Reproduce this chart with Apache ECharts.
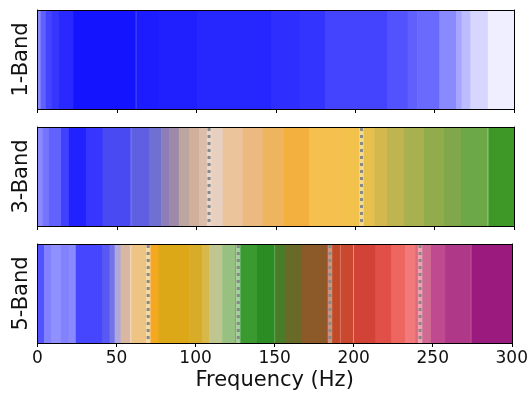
<!DOCTYPE html>
<html><head><meta charset="utf-8">
<script src="https://cdn.jsdelivr.net/npm/echarts@6/dist/echarts.min.js"></script>
<style>html,body{margin:0;padding:0;background:#fff}#c{width:531px;height:394px}</style>
</head><body><div id="c"></div>
<script>
// ---- data ----
const panelNames = ['1-Band', '3-Band', '5-Band'];
const xTickStep = 50;
const xMin = 0, xMax = 300;

// 1-Band: frequency bin edges (Hz) and the colour read for each bin
const edges1 = [0,2,5.2,9,13.5,22.4,61.8,62.3,76.5,100.4,147,165,181,220,233,239,253,263.5,267,272.5,283.5,300];
const colors1 = ['#8a8aff','#6060ff','#4444ff','#3636ff','#2828ff','#1414ff','#5a5aff','#1c1cff','#2020ff','#2626ff','#2e2eff','#3434ff','#4444ff','#5252ff','#6060ff','#6a6aff','#8a8aff','#a6a6ff','#bcbcff','#d6d6ff','#efefff'];

// 3-Band
const edges2 = [0,3.3,7.2,14.8,19.8,30.5,41,58.6,59.2,70.2,77.8,82.8,89,95.4,101.7,109.3,116.6,129.2,141.8,155.2,171,192.9,203.7,212,220,230.7,243.3,255.9,266.6,283,284,300];
const colors2 = ['#8a8aff','#7474ff','#6262ff','#4040ff','#2222ff','#3636ff','#4a4af2','#8080f4','#5f5fe2','#7070d2','#8e7eb8','#9e8aa8','#bca6a0','#d0b09a','#dcbcaa','#e8d0c0','#ecc49c','#ecba80','#eeb45e','#f4b03e','#f6c04e','#f2c24c','#e8c04c','#d4b84e','#c0b450','#a8b050','#92ac4c','#80a84a','#6ca848','#88bb66','#3e9828'];
const boundaries3 = [108, 204];

// 5-Band
const edges3 = [0,4.1,8.5,14.8,19.8,24.2,41,45.6,48.8,52.6,58.7,59.3,68.3,71.5,76.5,96,104.2,108.6,116.8,125,128,138.8,149.7,150.3,157,167,182.2,185.9,191.3,191.8,199.6,200.2,213.7,223.8,232.6,238.9,242.6,248.9,257.8,274,274.5,300];
const colors3 = ['#5252ff','#8282ff','#9090ff','#8282ff','#8a8aff','#4646ff','#5858f2','#7474ea','#b0a8d8','#d8b8a0','#f4dcc4','#eec484','#f0c070','#f4a820','#dca818','#d8ac28','#d8b848','#c0c690','#98c080','#6cb060','#3a9a30','#2a8c22','#5aa050','#4a7c28','#6a6a28','#8c5a28','#a05028','#c04a28','#e08070','#c84830','#e89080','#d24236','#e05048','#ee6660','#f27a7a','#e06878','#d06a92','#c04a90','#b03888','#c060a0','#9a1a7e'];
const boundaries5 = [70, 127, 185, 242];

// ---- chart ----
const FONT = 'DejaVu Sans';
const tops = [10, 127, 244];
const H = 99;
const panels = [
  {edges: edges1, colors: colors1, bounds: []},
  {edges: edges2, colors: colors2, bounds: boundaries3},
  {edges: edges3, colors: colors3, bounds: boundaries5}
];

const grid = tops.map(t => ({left: 37.5, top: t, width: 476.5, height: H}));
const xAxis = [], yAxis = [], series = [];
panels.forEach((p, i) => {
  const last = i === panels.length - 1;
  xAxis.push({
    type: 'value', gridIndex: i, min: xMin, max: xMax, interval: xTickStep, z: 10,
    axisLine: {show: true, onZero: false, lineStyle: {color: '#000', width: 1}},
    axisTick: {show: true, length: 4, lineStyle: {color: '#000', width: 1}},
    axisLabel: {show: last, fontFamily: FONT, fontSize: 17, color: '#111', margin: 7},
    splitLine: {show: false},
    name: last ? 'Frequency (Hz)' : '', nameLocation: 'middle', nameGap: 27,
    nameTextStyle: {fontFamily: FONT, fontSize: 21, color: '#111'}
  });
  xAxis.push({
    type: 'value', gridIndex: i, min: xMin, max: xMax, position: 'top', z: 10,
    axisLine: {show: true, onZero: false, lineStyle: {color: '#000', width: 1}},
    axisTick: {show: false}, axisLabel: {show: false}, splitLine: {show: false}
  });
  yAxis.push({
    type: 'value', gridIndex: i, min: 0, max: 1, z: 10,
    axisLine: {show: true, onZero: false, lineStyle: {color: '#000', width: 1}},
    axisTick: {show: false}, axisLabel: {show: false}, splitLine: {show: false},
    name: panelNames[i], nameLocation: 'middle', nameGap: 5,
    nameTextStyle: {fontFamily: FONT, fontSize: 21, color: '#111'}
  });
  yAxis.push({
    type: 'value', gridIndex: i, min: 0, max: 1, position: 'right', z: 10,
    axisLine: {show: true, onZero: false, lineStyle: {color: '#000', width: 1}},
    axisTick: {show: false}, axisLabel: {show: false}, splitLine: {show: false}
  });

  const cols = p.colors;
  series.push({
    type: 'custom', xAxisIndex: i * 2, yAxisIndex: i * 2, z: 2, silent: true,
    data: cols.map((c, k) => [p.edges[k], p.edges[k + 1], k]),
    encode: {x: [0, 1]},
    renderItem: function (params, api) {
      const a = api.coord([api.value(0), 1]);
      const b = api.coord([api.value(1), 0]);
      return {type: 'rect', shape: {x: a[0], y: a[1], width: b[0] - a[0] + 0.6, height: b[1] - a[1]},
              style: {fill: cols[api.value(2)]}};
    }
  });
  if (p.bounds.length) {
    series.push({
      type: 'custom', xAxisIndex: i * 2, yAxisIndex: i * 2, z: 5, silent: true,
      data: p.bounds.map(b => [b]),
      encode: {x: 0},
      renderItem: function (params, api) {
        const t = api.coord([api.value(0), 1]);
        const b = api.coord([api.value(0), 0]);
        const shape = {x1: t[0], y1: t[1] + 1, x2: b[0], y2: b[1]};
        return {type: 'group', children: [
          {type: 'line', shape: shape, style: {stroke: 'rgba(255,255,255,0.4)', lineWidth: 4.5}},
          {type: 'line', shape: shape, style: {stroke: '#888', lineWidth: 3, lineDash: [3, 4]}}
        ]};
      }
    });
  }
});

const chart = echarts.init(document.getElementById('c'), null, {renderer: 'canvas'});
chart.setOption({animation: false, backgroundColor: '#fff', grid, xAxis, yAxis, series});
</script>
</body></html>
